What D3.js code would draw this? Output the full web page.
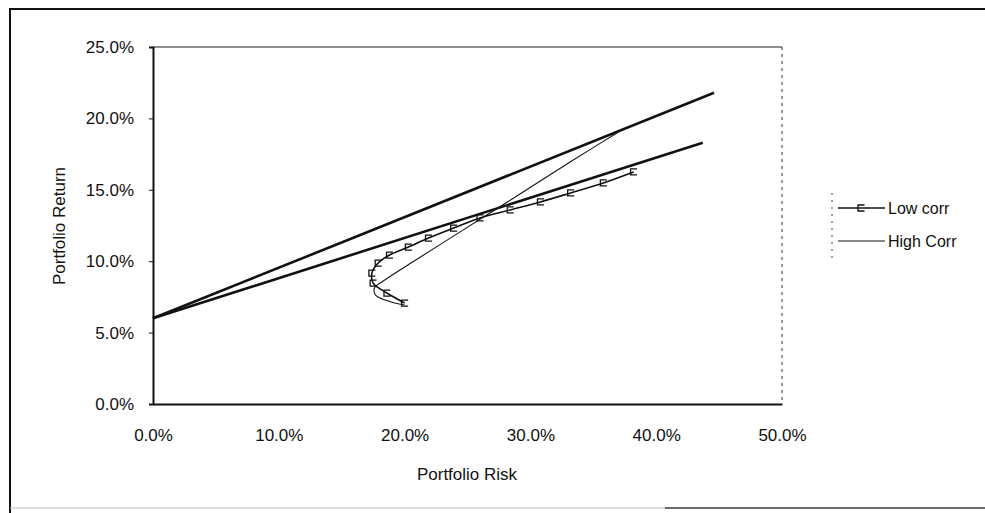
<!DOCTYPE html>
<html>
<head>
<meta charset="utf-8">
<script src="https://cdn.jsdelivr.net/npm/d3@7"></script>
<style>
  html, body { margin: 0; padding: 0; background: #fff; }
  svg { display: block; }
  text { font-family: "Liberation Sans", Arial, sans-serif; fill: #111; }
</style>
</head>
<body>
<svg id="chart" width="985" height="513"></svg>
<script>
// Axis ticks
const xTicks = [0, 0.1, 0.2, 0.3, 0.4, 0.5];
const yTicks = [0, 0.05, 0.10, 0.15, 0.20, 0.25];

// Two-asset portfolio frontier, low correlation (risk, return)
const lowRisk   = [0.200, 0.186, 0.175, 0.174, 0.179, 0.188, 0.203, 0.219, 0.239, 0.260, 0.284, 0.308, 0.332, 0.358, 0.382];
const lowReturn = [0.0707, 0.0777, 0.0847, 0.0917, 0.0987, 0.1043, 0.1099, 0.1162, 0.1232, 0.1303, 0.1359, 0.1415, 0.1478, 0.1548, 0.1625];

// Two-asset portfolio frontier, high correlation (risk, return)
const highRisk   = [0.200, 0.187, 0.177, 0.176, 0.183, 0.207, 0.236, 0.265, 0.292, 0.320, 0.349, 0.370];
const highReturn = [0.0693, 0.0721, 0.0763, 0.0812, 0.0861, 0.0998, 0.1160, 0.1322, 0.1472, 0.1630, 0.1790, 0.1905];

// Capital market lines from the risk-free rate
const cmlUpperRisk   = [0, 0.446];
const cmlUpperReturn = [0.06, 0.218];
const cmlLowerRisk   = [0, 0.437];
const cmlLowerReturn = [0.06, 0.183];

const legendLabels = ["Low corr", "High Corr"];

const svg = d3.select("#chart");
const plot = { left: 153, right: 782, top: 47, bottom: 404 };

const x = d3.scaleLinear().domain([0, 0.5]).range([plot.left, plot.right]);
const y = d3.scaleLinear().domain([0, 0.25]).range([plot.bottom, plot.top]);
const pct = d3.format(".1%");

// Outer chart frame
svg.append("path")
  .attr("d", "M10,513 V9 H985")
  .attr("fill", "none").attr("stroke", "#111").attr("stroke-width", 2);
svg.append("line")
  .attr("x1", 10).attr("x2", 985).attr("y1", 508).attr("y2", 508)
  .attr("stroke", "#bbb").attr("stroke-width", 1);
svg.append("line")
  .attr("x1", 665).attr("x2", 985).attr("y1", 508).attr("y2", 508)
  .attr("stroke", "#444").attr("stroke-width", 1.5);

// Plot area border (top and right)
svg.append("line")
  .attr("x1", plot.left).attr("x2", plot.right).attr("y1", plot.top).attr("y2", plot.top)
  .attr("stroke", "#222").attr("stroke-width", 1.2);
svg.append("line")
  .attr("x1", plot.right).attr("x2", plot.right).attr("y1", plot.top).attr("y2", plot.bottom)
  .attr("stroke", "#333").attr("stroke-width", 1).attr("stroke-dasharray", "3,4");

// Axes
const xAxis = svg.append("g")
  .attr("transform", `translate(0,${plot.bottom})`)
  .call(d3.axisBottom(x).tickValues(xTicks).tickFormat(pct).tickSize(0).tickPadding(25));
const yAxis = svg.append("g")
  .attr("transform", `translate(${plot.left},0)`)
  .call(d3.axisLeft(y).tickValues(yTicks).tickFormat(pct).tickSize(4).tickPadding(15));

[xAxis, yAxis].forEach(g => {
  g.select(".domain").attr("stroke", "#111").attr("stroke-width", 2);
  g.selectAll(".tick line").attr("stroke", "#111");
  g.selectAll("text").attr("font-size", 17)
    .style("font-family", '"Liberation Sans", Arial, sans-serif').attr("fill", "#111");
});

// Axis titles
svg.append("text")
  .attr("x", 467).attr("y", 480)
  .attr("text-anchor", "middle").attr("font-size", 17)
  .text("Portfolio Risk");
svg.append("text")
  .attr("transform", "translate(65,226) rotate(-90)")
  .attr("text-anchor", "middle").attr("font-size", 17)
  .text("Portfolio Return");

// Capital market lines
const straight = d3.line().x(d => x(d[0])).y(d => y(d[1]));
[[cmlUpperRisk, cmlUpperReturn], [cmlLowerRisk, cmlLowerReturn]].forEach(([r, m]) => {
  svg.append("path")
    .datum(r.map((v, i) => [v, m[i]]))
    .attr("d", straight)
    .attr("fill", "none").attr("stroke", "#111").attr("stroke-width", 2.6);
});

// High correlation frontier
const highData = highRisk.map((v, i) => [v, highReturn[i]]);
svg.append("path")
  .datum(highData)
  .attr("d", d3.line().x(d => x(d[0])).y(d => y(d[1])).curve(d3.curveCatmullRom))
  .attr("fill", "none").attr("stroke", "#111").attr("stroke-width", 1.1);

// Low correlation frontier with markers
const lowData = lowRisk.map((v, i) => [v, lowReturn[i]]);
svg.append("path")
  .datum(lowData)
  .attr("d", d3.line().x(d => x(d[0])).y(d => y(d[1])).curve(d3.curveCatmullRom))
  .attr("fill", "none").attr("stroke", "#111").attr("stroke-width", 1.6);

const markerPath = "M3.5,-3 H-3 V3 H3.5";
svg.append("g").selectAll("path")
  .data(lowData)
  .join("path")
  .attr("transform", d => `translate(${x(d[0])},${y(d[1])})`)
  .attr("d", markerPath)
  .attr("fill", "none").attr("stroke", "#111").attr("stroke-width", 1.3);

// Legend
const legend = svg.append("g");
legend.append("line")
  .attr("x1", 832).attr("x2", 832).attr("y1", 193).attr("y2", 258)
  .attr("stroke", "#444").attr("stroke-width", 1).attr("stroke-dasharray", "2,5");
const rows = [
  { label: legendLabels[0], y: 208, width: 1.6, marker: true },
  { label: legendLabels[1], y: 241, width: 1.1, marker: false }
];
rows.forEach(r => {
  legend.append("line")
    .attr("x1", 838).attr("x2", 885).attr("y1", r.y).attr("y2", r.y)
    .attr("stroke", "#111").attr("stroke-width", r.width);
  if (r.marker) {
    legend.append("path")
      .attr("transform", `translate(861,${r.y})`)
      .attr("d", markerPath)
      .attr("fill", "none").attr("stroke", "#111").attr("stroke-width", 1.3);
  }
  legend.append("text")
    .attr("x", 888).attr("y", r.y).attr("dy", "0.35em")
    .attr("font-size", 16)
    .text(r.label);
});
</script>
</body>
</html>
